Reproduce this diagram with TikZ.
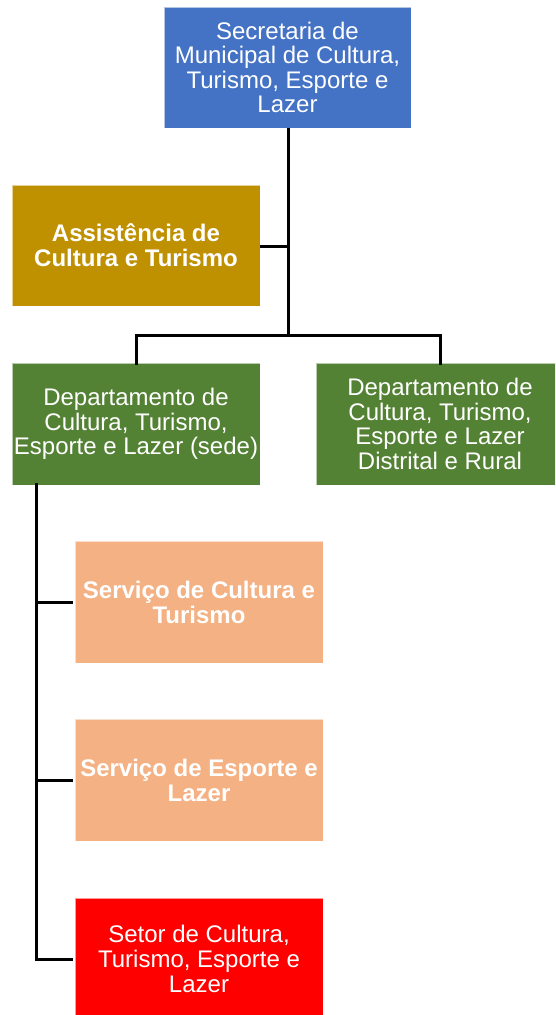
\documentclass[tikz,border=0pt]{standalone}
\usepackage{fontspec}
\setmainfont{Liberation Sans}
\definecolor{cblue}{HTML}{4472C4}
\definecolor{cgold}{HTML}{BF9000}
\definecolor{cgreen}{HTML}{548235}
\definecolor{cpeach}{HTML}{F4B183}
\definecolor{cred}{HTML}{FF0000}
\begin{document}
\begin{tikzpicture}[x=1pt,y=-1pt,
  orgbox/.style={draw=white, draw opacity=0.6, line width=0.6pt, text=white, align=center,
    inner sep=0pt, minimum width=248pt, minimum height=122pt,
    font=\fontsize{24}{24.6}\selectfont},
  boldbox/.style={orgbox, font=\fontsize{24}{25}\selectfont\bfseries},
  conn/.style={draw=black, line width=3pt}]
\useasboundingbox (0,0) rectangle (555,1015);
\clip (0,0) rectangle (555,1015);
\node[orgbox, fill=cblue, minimum width=247pt, minimum height=121pt] (sec) at (287.5,67.5)
  {Secretaria de\\Municipal de Cultura,\\Turismo, Esporte e\\Lazer};
\node[boldbox, fill=cgold, minimum height=121pt] (asst) at (136,245.5)
  {Assistência de\\Cultura e Turismo};
\node[orgbox, fill=cgreen] (sede) at (136,424)
  {Departamento de\\Cultura, Turismo,\\Esporte e Lazer (sede)};
\node[orgbox, fill=cgreen] (dist) at (440,424)
  {Departamento de\\Cultura, Turismo,\\Esporte e Lazer\\Distrital e Rural};
\node[boldbox, fill=cpeach] (serv1) at (199,602)
  {Serviço de Cultura e\\Turismo};
\node[boldbox, fill=cpeach] (serv2) at (199,780)
  {Serviço de Esporte e\\Lazer};
\node[orgbox, fill=cred] (setor) at (199,959)
  {Setor de Cultura,\\Turismo, Esporte e\\Lazer};
\coordinate (j0) at (288,335);
\coordinate (jl) at (136,335);
\coordinate (jr) at (440,335);
\coordinate (ja) at (288,246);
\coordinate (lx) at (36,0);
\draw[conn] (sec.south -| j0) -- (j0);
\draw[conn] (asst.east |- ja) -- (ja);
\draw[conn] ([yshift=-2pt]sede.north -| jl) -- (jl) -- (jr) -- ([yshift=-2pt]dist.north -| jr);
\draw[conn] ([yshift=2pt]sede.south -| lx) -- (setor.west -| lx) -- ([xshift=-2pt]setor.west);
\draw[conn] (serv1.west -| lx) -- ([xshift=-2pt]serv1.west);
\draw[conn] (serv2.west -| lx) -- ([xshift=-2pt]serv2.west);
\end{tikzpicture}
\end{document}
